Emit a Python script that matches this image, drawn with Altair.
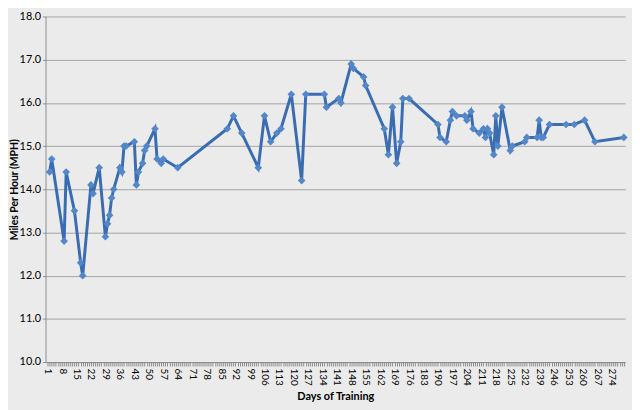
import altair as alt
import pandas as pd

days = [2, 3, 9, 10, 14, 17, 18, 22, 23, 26, 29, 30, 31, 32, 33, 36, 37, 38, 39,
        43, 44, 45, 47, 48, 49, 53, 54, 56, 57, 64, 88, 91, 95, 103, 106, 109,
        112, 114, 119, 124, 126, 135, 136, 142, 143, 148, 149, 154, 155, 164,
        166, 168, 170, 172, 173, 176, 190, 191, 194, 196, 197, 199, 203, 204,
        206, 207, 210, 212, 213, 214, 215, 217, 218, 219, 221, 225, 226, 232,
        233, 238, 239, 240, 241, 244, 252, 256, 261, 266, 280]
mph = [14.4, 14.7, 12.8, 14.4, 13.5, 12.3, 12.0, 14.1, 13.9, 14.5, 12.9, 13.2,
       13.4, 13.8, 14.0, 14.5, 14.4, 15.0, 15.0, 15.1, 14.1, 14.4, 14.6, 14.9,
       15.0, 15.4, 14.7, 14.6, 14.7, 14.5, 15.4, 15.7, 15.3, 14.5, 15.7, 15.1,
       15.3, 15.4, 16.2, 14.2, 16.2, 16.2, 15.9, 16.1, 16.0, 16.9, 16.8, 16.6,
       16.4, 15.4, 14.8, 15.9, 14.6, 15.1, 16.1, 16.1, 15.5, 15.2, 15.1, 15.6,
       15.8, 15.7, 15.7, 15.6, 15.8, 15.4, 15.3, 15.4, 15.2, 15.4, 15.3, 14.8,
       15.7, 15.0, 15.9, 14.9, 15.0, 15.1, 15.2, 15.2, 15.6, 15.2, 15.2, 15.5,
       15.5, 15.5, 15.6, 15.1, 15.2]

x_tick_days = list(range(1, 281))
y_ticks = [10, 11, 12, 13, 14, 15, 16, 17, 18]

df = pd.DataFrame({"day": days, "mph": mph})

AXIS_GREY = "#8c8c8c"
FONT = "Lato"
PLOT_H = 350

x = alt.X(
    "day:Q",
    scale=alt.Scale(domain=[0, 280.6], nice=False, zero=False),
    axis=alt.Axis(
        values=x_tick_days,
        labelExpr="(datum.value - 1) % 7 == 0 ? datum.label : ''",
        labelAngle=90,
        labelOverlap=False,
        labelFlush=False,
        labelFont=FONT,
        labelFontSize=10,
        labelColor="black",
        labelPadding=2,
        tickSize=4,
        tickColor=AXIS_GREY,
        domainColor=AXIS_GREY,
        grid=False,
        title="Days of Training",
        titleFont=FONT,
        titleFontSize=11,
        titleFontWeight="bold",
        titleColor="black",
        titleY=35,
        titleBaseline="middle",
    ),
)

y = alt.Y(
    "mph:Q",
    scale=alt.Scale(domain=[10, 18], nice=False, zero=False),
    axis=alt.Axis(
        values=y_ticks,
        format=".1f",
        labelFont=FONT,
        labelFontSize=11,
        labelColor="black",
        labelPadding=2,
        tickSize=3,
        tickColor=AXIS_GREY,
        domainColor=AXIS_GREY,
        gridColor="#a3a3a3",
        gridWidth=1,
        title="Miles Per Hour (MPH)",
        titleFont=FONT,
        titleFontSize=10.5,
        titleFontWeight="bold",
        titleColor="black",
        titleAngle=270,
        titleX=-31,
        titleY=PLOT_H / 2,
        titleAlign="center",
        titleBaseline="middle",
    ),
)

base = alt.Chart(df).encode(x=x, y=y)
line = base.mark_line(color="#3a6cb2", strokeWidth=3)
points = base.mark_point(shape="diamond", filled=True, size=60, color="#5387c9", opacity=1)

chart = (
    alt.layer(line, points)
    .properties(
        width=587,
        height=PLOT_H,
        autosize=alt.AutoSizeParams(type="none"),
        padding={"left": 38, "top": 6, "right": 7, "bottom": 46},
        background="#ebebeb",
    )
    .configure_view(stroke=None)
)

chart.save("out.html", embed_options={"renderer": "svg", "actions": False})
